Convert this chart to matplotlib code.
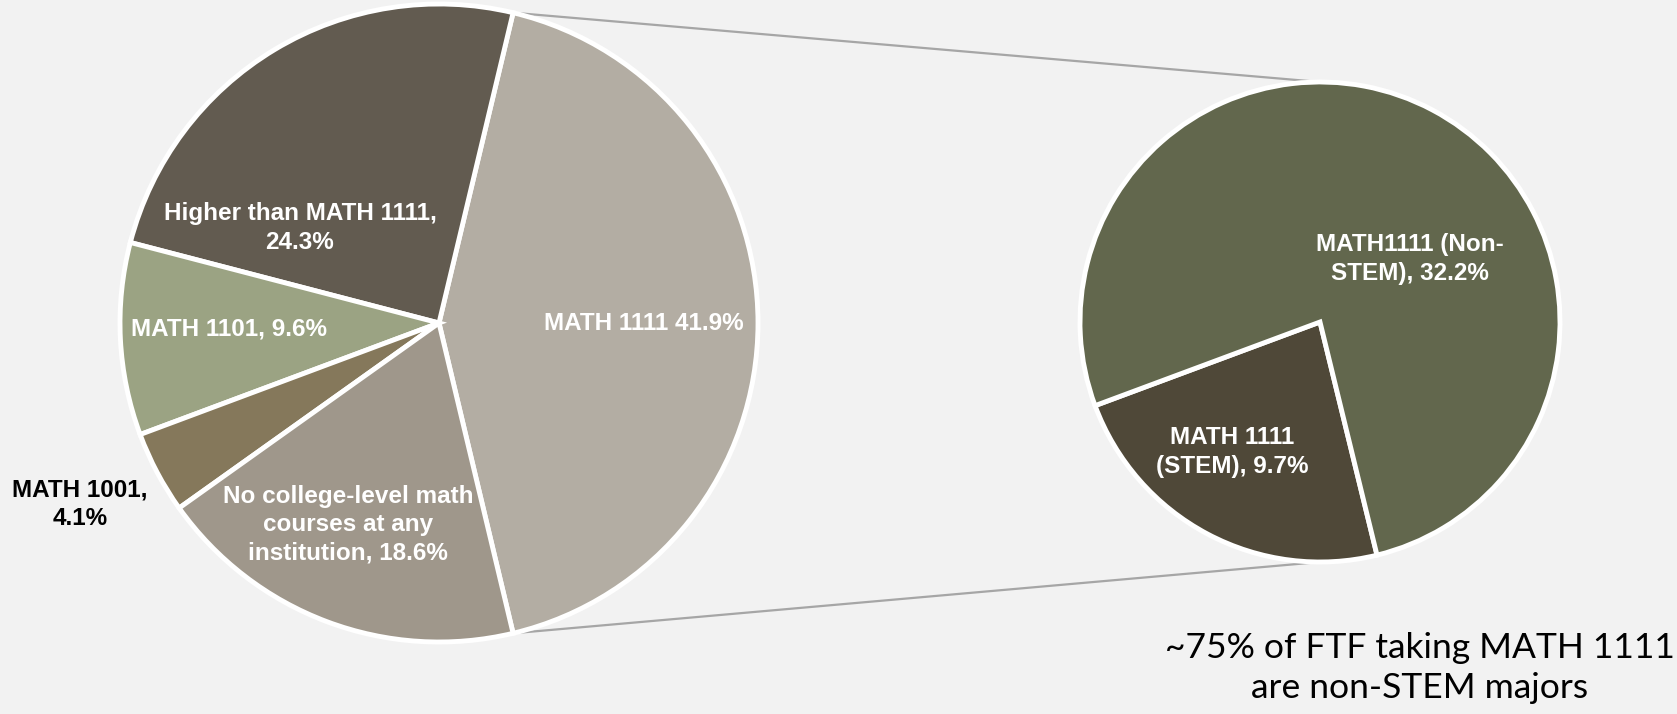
import numpy as np
import matplotlib

matplotlib.use("Agg")
import matplotlib.pyplot as plt  # noqa: E402

# main pie (counter-clockwise, starting with MATH 1111 centred on the right)
MAIN_LABELS = [
    "MATH 1111 41.9%",
    "Higher than MATH 1111,\n24.3%",
    "MATH 1101, 9.6%",
    "",
    "No college-level math\ncourses at any\ninstitution, 18.6%",
]
MAIN_VALUES = [41.9, 24.3, 9.6, 4.1, 18.6]
MAIN_COLORS = ["#b3ada3", "#625b50", "#9ba383", "#85785b", "#9f978b"]

# breakout of MATH 1111
SUB_LABELS = ["MATH 1111\n(STEM), 9.7%", "MATH1111 (Non-\nSTEM), 32.2%"]
SUB_VALUES = [9.7, 32.2]
SUB_COLORS = ["#4f4838", "#62674d"]

OUTSIDE_LABEL = "MATH 1001,\n4.1%"
NOTE = "~75% of FTF taking MATH 1111\nare non-STEM majors"

W, H = 1677, 714
BG = "#f2f2f2"

fig = plt.figure(figsize=(W / 100, H / 100), dpi=100, facecolor=BG)
ax = fig.add_axes([0, 0, 1, 1])
ax.set_facecolor(BG)

main_c, main_r = (439, H - 323), 319
sub_c, sub_r = (1320, H - 322), 240

start = -MAIN_VALUES[0] / sum(MAIN_VALUES) * 360 / 2
wedges, _ = ax.pie(MAIN_VALUES, colors=MAIN_COLORS, startangle=start,
                   center=main_c, radius=main_r, counterclock=True,
                   wedgeprops=dict(edgecolor="white", linewidth=3.5))
sub_wedges, _ = ax.pie(SUB_VALUES, colors=SUB_COLORS, startangle=200.4,
                       center=sub_c, radius=sub_r, counterclock=True,
                       wedgeprops=dict(edgecolor="white", linewidth=3.5))

# connector lines from the MATH 1111 wedge edges to the breakout pie
w0 = wedges[0]
for ang, sy in [(w0.theta2, 1), (w0.theta1, -1)]:
    a = np.deg2rad(ang)
    x0 = main_c[0] + main_r * np.cos(a)
    y0 = main_c[1] + main_r * np.sin(a)
    ax.plot([x0, sub_c[0]], [y0, sub_c[1] + sy * sub_r], color="#a6a6a6",
            lw=1.6, zorder=0)

txt = dict(color="white", fontsize=17.5, fontweight="bold", ha="center",
           va="center", family="Liberation Sans", linespacing=1.28)
main_pos = [(644, 324), (300, 228), (229, 329), None, (348, 525)]
for lab, pos in zip(MAIN_LABELS, main_pos):
    if pos:
        ax.text(pos[0], H - pos[1], lab, **txt)
ax.text(80, H - 504, OUTSIDE_LABEL, **{**txt, "color": "black"})

sub_pos = [(1232, 452), (1410, 259)]
for lab, pos in zip(SUB_LABELS, sub_pos):
    ax.text(pos[0], H - pos[1], lab, **txt)

ax.text(1420, H - 668, NOTE, ha="center", va="center", fontsize=25.5,
        family="Lato", color="black", linespacing=1.27)

ax.set_xlim(0, W)
ax.set_ylim(0, H)
ax.set_aspect("equal")
ax.axis("off")
fig.savefig("out.png", dpi=100, facecolor=BG)
